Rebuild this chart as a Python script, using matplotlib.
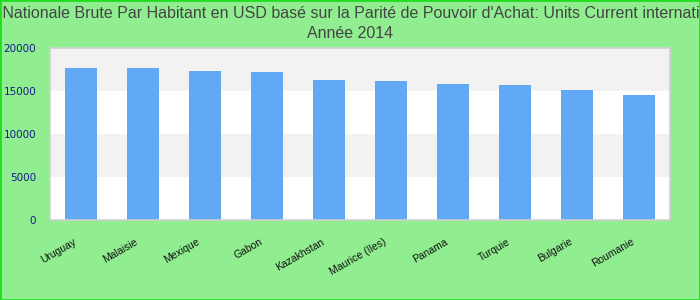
import numpy as np
import matplotlib
matplotlib.use('Agg')
import matplotlib.pyplot as plt
from matplotlib.patches import Rectangle

# GNI per capita, PPP, 2014
countries = ['Uruguay', 'Malaisie', 'Mexique', 'Gabon', 'Kazakhstan',
             'Maurice (Iles)', 'Panama', 'Turquie', 'Bulgarie', 'Roumanie']
values = [17680, 17670, 17330, 17210, 16280, 16160, 15810, 15700, 15120, 14530]
yticks = [0, 5000, 10000, 15000, 20000]

title_1 = "Revenu Nationale Brute Par Habitant en USD basé sur la Parité de Pouvoir d'Achat: Units Current international $"
title_2 = "Année 2014"

fig = plt.figure(figsize=(7, 3), dpi=100)
fig.patch.set_facecolor('#90ee90')
fig.patches.append(Rectangle((0, 0), 1, 1, transform=fig.transFigure, fill=False,
                             edgecolor='#22dd22', linewidth=2, zorder=10))

ax = fig.add_axes([50/700, 80/300, 620/700, 172/300])
ax.set_facecolor('white')

# alternating bands
for lo, hi in zip(yticks[:-1], yticks[1:]):
    if (lo // 5000) % 2 == 1:
        ax.axhspan(lo, hi, color='#f2f2f2', zorder=0, linewidth=0)

x = np.arange(len(countries))
ax.bar(x, values, width=0.52, color='#61a9f5', zorder=2)

ax.set_xlim(-0.5, len(countries) - 0.5)
ax.set_ylim(0, 20000)
ax.set_yticks(yticks)
ax.tick_params(axis='y', length=0, pad=10, labelsize=7.5, labelcolor='#1a1a8c')

# labels end a little left of the bar centre
ax.set_xticks(x - 0.13)
ax.set_xticklabels(countries, rotation=30, ha='right', va='top', rotation_mode='anchor',
                   fontsize=7.5, family='Liberation Sans', color='#111111')
ax.tick_params(axis='x', length=0, pad=12)

for s in ax.spines.values():
    s.set_color('#d0d0d0')
    s.set_linewidth(1.2)

# title is wider than the figure in the original and gets clipped on both sides
fig.text(343/700, 1 - 13/300, title_1, ha='center', va='center', fontsize=11.5,
         family='Liberation Sans', color='#444444')
fig.text(0.5, 1 - 33/300, title_2, ha='center', va='center', fontsize=11.5,
         family='Liberation Sans', color='#444444')

fig.savefig('out.png', dpi=100, facecolor=fig.get_facecolor())
